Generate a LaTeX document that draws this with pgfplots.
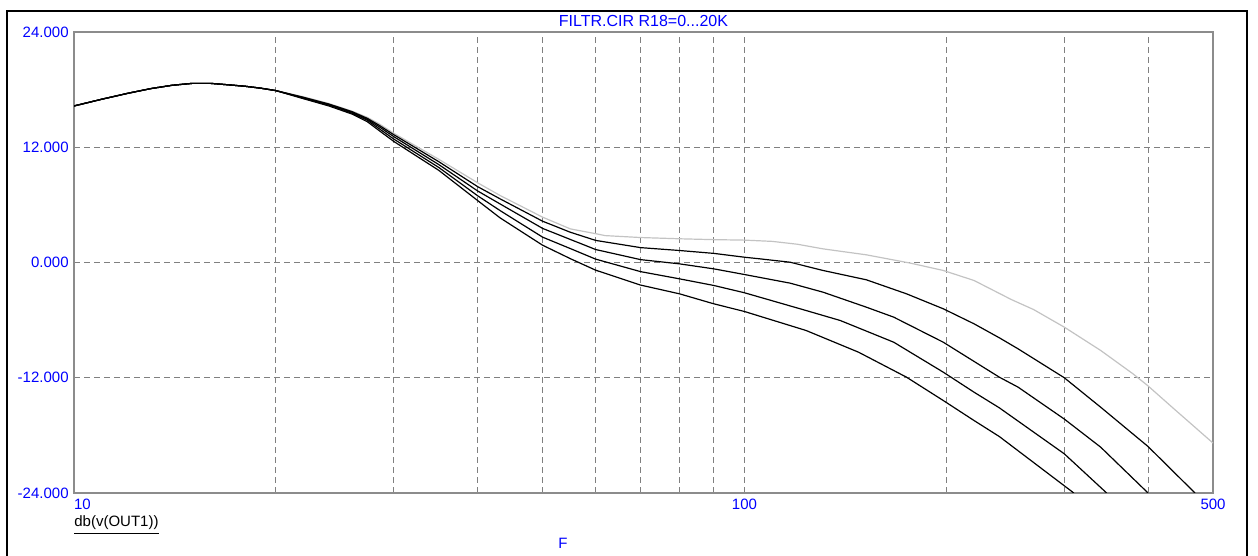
\documentclass[border=0pt]{standalone}
\usepackage{fontspec}
\setmainfont{Liberation Sans}
\usepackage{pgfplots}
\pgfplotsset{compat=1.18}
\definecolor{tblue}{RGB}{0,0,255}
\definecolor{gridgray}{RGB}{128,128,128}
\definecolor{lgray}{RGB}{195,195,195}
\definecolor{framegray}{RGB}{140,140,140}
\begin{document}
\begin{tikzpicture}
\path[use as bounding box] (0pt,0pt) rectangle (629pt,278pt);
\draw[black, line width=1.1pt] (3.5pt,-3pt) -- (3.5pt,272.5pt) -- (623.5pt,272.5pt) -- (623.5pt,-3pt);
\begin{axis}[
  at={(37pt,31.5pt)}, anchor=south west,
  scale only axis, width=569.5pt, height=230.5pt,
  xmode=log, log basis x=10,
  xmin=10, xmax=500, ymin=-24, ymax=24,
  xtick={10,100,500}, xticklabels={\rlap{10},100,500},
  minor xtick={20,30,40,50,60,70,80,90,200,300,400},
  ytick={-24,-12,0,12,24},
  yticklabels={-24.000,-12.000,0.000,12.000,24.000},
  grid=both,
  major grid style={gridgray, line width=0.5pt, dash pattern=on 3pt off 2pt},
  minor grid style={gridgray, line width=0.5pt, dash pattern=on 3pt off 2pt},
  major tick length=0pt, minor tick length=0pt,
  axis line style={framegray, line width=0.7pt},
  tick label style={font=\fontsize{7.5}{9}\selectfont, text=tblue, inner sep=0pt},
  yticklabel style={anchor=east, xshift=-2.5pt},
  xticklabel style={anchor=north, yshift=-3pt},
  every axis plot/.append style={line width=0.6pt, line join=round},
  clip=true,
]
% R18 = 20K (light gray)
\addplot[lgray] coordinates {
(10,16.3)(11,17.0)(12,17.6)(13,18.1)(14,18.45)(15,18.65)(16,18.65)(17,18.5)(18,18.35)(19,18.15)(20,17.9)
(22,17.25)(24,16.55)(26,15.75)(27.4,15.1)(28.5,14.45)(30,13.45)(35,10.75)(40,8.3)(43.2,6.98)(50,4.72)(55,3.5)
(60,3.0)(62,2.8)(70,2.6)(80,2.47)(90,2.38)(100,2.33)(110,2.2)(120,1.9)(131,1.42)(152,0.8)(177,-0.07)
(198,-0.83)(220,-1.87)(250,-3.85)(270,-4.9)(300,-6.73)(340,-9.16)(380,-11.6)(400,-12.85)(435,-15.1)(500,-18.8)
};
\addplot[black] coordinates {
(10,16.3)(11,17.0)(12,17.6)(13,18.1)(14,18.45)(15,18.65)(16,18.65)(17,18.5)(18,18.35)(19,18.15)(20,17.9)
(22,17.2)(24,16.5)(26,15.7)(27.4,15.0)(28.5,14.3)(30,13.3)(35,10.5)(40,7.9)(43.2,6.63)(50,4.3)(55,3.15)(60,2.3)
(70,1.55)(80,1.25)(90,0.95)(100,0.55)(105.5,0.38)(117,0.03)(131,-0.83)(152,-1.8)(174.5,-3.26)(198,-4.82)
(220,-6.38)(240,-7.84)(256,-8.99)(300,-12.0)(340,-15.07)(400,-19.16)(470,-24)
};
\addplot[black] coordinates {
(10,16.3)(11,17.0)(12,17.6)(13,18.1)(14,18.45)(15,18.65)(16,18.65)(17,18.5)(18,18.35)(19,18.15)(20,17.9)
(22,17.15)(24,16.45)(26,15.65)(27.4,14.9)(28.5,14.15)(30,13.1)(35,10.2)(40,7.45)(43.2,6.1)(50,3.55)(55,2.4)(60,1.35)
(70,0.3)(80,-0.14)(90,-0.66)(100,-1.25)(117,-2.15)(131,-3.09)(152,-4.65)(167,-5.69)(198,-8.3)(240,-11.94)
(256,-12.98)(300,-16.3)(340,-19.23)(400,-24)
};
\addplot[black] coordinates {
(10,16.3)(11,17.0)(12,17.6)(13,18.1)(14,18.45)(15,18.65)(16,18.65)(17,18.5)(18,18.35)(19,18.15)(20,17.9)
(22,17.1)(24,16.4)(26,15.55)(27.4,14.8)(28.5,13.95)(30,12.85)(35,9.9)(40,6.95)(43.2,5.41)(50,2.64)(55,1.45)(60,0.35)
(70,-0.95)(80,-1.7)(90,-2.39)(100,-3.15)(123.6,-5.0)(139,-6.04)(167,-8.3)(198,-11.42)(220,-13.5)(240,-15.13)
(300,-19.92)(347,-24)
};
\addplot[black] coordinates {
(10,16.3)(11,17.0)(12,17.6)(13,18.1)(14,18.45)(15,18.65)(16,18.65)(17,18.5)(18,18.35)(19,18.15)(20,17.9)
(22,17.05)(24,16.3)(26,15.45)(27.4,14.65)(28.5,13.75)(30,12.6)(35,9.6)(40,6.45)(43.2,4.65)(50,1.8)(55,0.4)(60,-0.8)
(70,-2.35)(80,-3.26)(90,-4.3)(100,-5.1)(123.6,-7.08)(148,-9.34)(174.5,-11.94)(198,-14.37)(220,-16.45)
(240,-18.12)(310,-24)
};
\end{axis}
\node[anchor=base, text=tblue, font=\fontsize{8}{9.6}\selectfont, inner sep=0pt] at (321.75pt,264.5pt) {FILTR.CIR R18=0...20K};
\node[anchor=base west, font=\fontsize{7.5}{9}\selectfont, inner sep=0pt] at (37pt,14.5pt) {\underline{db(v(OUT1))}};
\node[anchor=base, text=tblue, font=\fontsize{7.5}{9}\selectfont, inner sep=0pt] at (281.5pt,3.5pt) {F};
\end{tikzpicture}
\end{document}
